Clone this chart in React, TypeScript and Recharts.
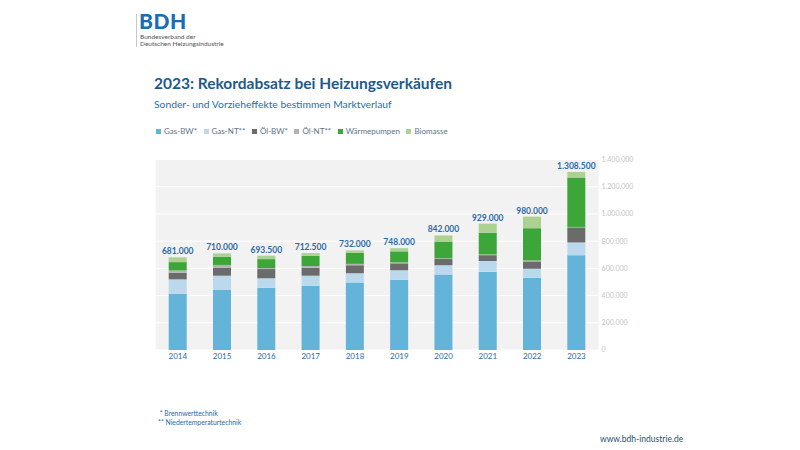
import React from 'react';
import { BarChart, Bar, XAxis, YAxis, CartesianGrid, LabelList } from 'recharts';

const years = ['2014', '2015', '2016', '2017', '2018', '2019', '2020', '2021', '2022', '2023'];
const gasBW = [414000, 441000, 458000, 472000, 496000, 516000, 554000, 574000, 530000, 697000];
const gasNT = [105000, 105000, 69000, 74000, 68000, 70000, 69000, 80000, 67000, 93500];
const oelBW = [49000, 59000, 68000, 59000, 59000, 51000, 46000, 43000, 54000, 111000];
const oelNT = [17000, 20000, 7000, 12000, 10000, 7000, 5000, 5000, 7000, 3000];
const waermepumpen = [61000, 61000, 66000, 76000, 81000, 81000, 123000, 160000, 237000, 363000];
const biomasse = [35000, 24000, 25500, 19500, 18000, 23000, 45000, 67000, 85000, 41000];
const totals = [681000, 710000, 693500, 712500, 732000, 748000, 842000, 929000, 980000, 1308500];
const yTicks = [0, 200000, 400000, 600000, 800000, 1000000, 1200000, 1400000];

const series = [
  { key: 'gasBW', name: 'Gas-BW*', color: '#63b4d8', values: gasBW },
  { key: 'gasNT', name: 'Gas-NT**', color: '#bcd8ec', values: gasNT },
  { key: 'oelBW', name: 'Öl-BW*', color: '#6b6b6b', values: oelBW },
  { key: 'oelNT', name: 'Öl-NT**', color: '#b3b3b3', values: oelNT },
  { key: 'wp', name: 'Wärmepumpen', color: '#3da638', values: waermepumpen },
  { key: 'bio', name: 'Biomasse', color: '#abd193', values: biomasse },
];

const data = years.map((year, i) => {
  const row: Record<string, string | number> = { year, total: totals[i] };
  series.forEach((s) => {
    row[s.key] = s.values[i];
  });
  return row;
});

const fmt = (v: number) => String(Math.round(v)).replace(/\B(?=(\d{3})+(?!\d))/g, '.');

const FONT = 'Lato, "Open Sans", sans-serif';

export default function App() {
  return (
    <div style={{ position: 'absolute', left: 0, top: 0, width: 800, height: 450, background: '#ffffff', fontFamily: FONT, overflow: 'hidden' }}>
      {/* Logo */}
      <div style={{ position: 'absolute', left: 136, top: 14, width: 1, height: 33, background: '#c8c8c8' }} />
      <div style={{ position: 'absolute', left: 139, top: 8, fontSize: 21, fontWeight: 900, color: '#1a6db3', letterSpacing: 0.5, lineHeight: '26px' }}>BDH</div>
      <div style={{ position: 'absolute', left: 140, top: 33, fontSize: 6.5, color: '#555', lineHeight: '7px' }}>Bundesverband der</div>
      <div style={{ position: 'absolute', left: 140, top: 40, fontSize: 6.5, color: '#555', lineHeight: '7px' }}>Deutschen Heizungsindustrie</div>

      {/* Title */}
      <div style={{ position: 'absolute', left: 154, top: 73, fontSize: 15.5, fontWeight: 700, color: '#1d5a8c', lineHeight: '20px', whiteSpace: 'nowrap' }}>
        2023: Rekordabsatz bei Heizungsverkäufen
      </div>
      <div style={{ position: 'absolute', left: 154, top: 97, fontSize: 10.3, color: '#2470ad', lineHeight: '14px', whiteSpace: 'nowrap' }}>
        Sonder- und Vorzieheffekte bestimmen Marktverlauf
      </div>

      {/* Legend */}
      <div style={{ position: 'absolute', left: 156, top: 126, display: 'flex', alignItems: 'center', fontSize: 8, color: '#5d7489', whiteSpace: 'nowrap' }}>
        {series.map((s) => (
          <div key={s.key} style={{ display: 'flex', alignItems: 'center', marginRight: 6.5 }}>
            <div style={{ width: 5, height: 5, background: s.color, marginRight: 3 }} />
            <span>{s.name}</span>
          </div>
        ))}
      </div>

      <BarChart
        width={800}
        height={450}
        data={data}
        margin={{ top: 159.5, right: 156.4, left: 155.7, bottom: 80 }}
        style={{ position: 'absolute', left: 0, top: 0 }}
        barSize={18}
      >
        <CartesianGrid vertical={false} stroke="#ffffff" strokeWidth={1} fill="#f2f2f2" />
        <XAxis
          dataKey="year"
          axisLine={false}
          tickLine={false}
          tickSize={0}
          tickMargin={3}
          height={20}
          interval={0}
          tick={{ fill: '#2a6aa6', fontSize: 8, fontFamily: FONT }}
        />
        <YAxis
          orientation="right"
          domain={[0, 1400000]}
          ticks={yTicks}
          axisLine={false}
          tickLine={false}
          tickSize={0}
          tickMargin={3}
          width={45}
          interval={0}
          tickFormatter={fmt}
          tick={{ fill: '#c6c6c6', fontSize: 7, fontFamily: FONT, textAnchor: 'start' }}
        />
        {series.map((s, idx) => (
          <Bar key={s.key} dataKey={s.key} name={s.name} stackId="a" fill={s.color} isAnimationActive={false}>
            {idx === series.length - 1 && (
              <LabelList
                dataKey="total"
                position="top"
                offset={3}
                formatter={(v: number) => fmt(v)}
                style={{ fill: '#2a6aa6', fontSize: 8.5, fontWeight: 700, fontFamily: FONT }}
              />
            )}
          </Bar>
        ))}
      </BarChart>

      {/* Footnotes */}
      <div style={{ position: 'absolute', left: 158, top: 409, fontSize: 6.8, color: '#2a6aa6', lineHeight: '8.5px', whiteSpace: 'nowrap' }}>
        <div>&nbsp;* Brennwerttechnik</div>
        <div>** Niedertemperaturtechnik</div>
      </div>
      <div style={{ position: 'absolute', left: 600, top: 434, fontSize: 8.5, color: '#2c4d6e', lineHeight: '11px', whiteSpace: 'nowrap' }}>
        www.bdh-industrie.de
      </div>
    </div>
  );
}
